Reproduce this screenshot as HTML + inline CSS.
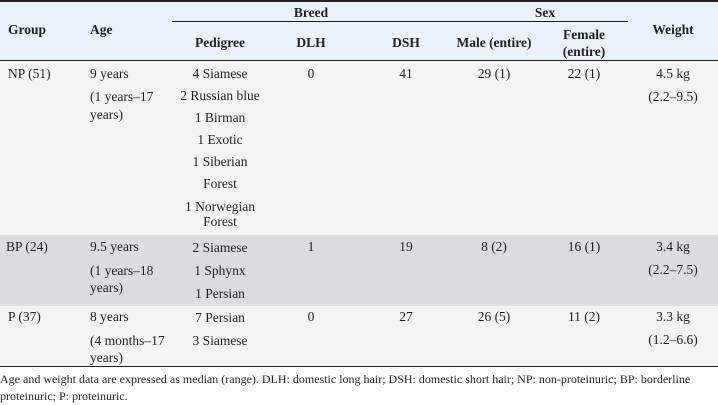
<!DOCTYPE html>
<html><head><meta charset="utf-8"><style>
body{margin:0;width:718px;height:402px;background:#fff;font-family:"Liberation Serif",serif;font-size:13.5px;color:#231f20;position:relative;overflow:hidden}
div{position:absolute;white-space:nowrap;line-height:15px}
.b{font-weight:bold}
.c{transform:translateX(-50%);text-align:center}
</style></head><body>
<div style="left:0;top:0;width:718px;height:61px;background:#e9f1fa"></div>
<div style="left:0;top:61px;width:718px;height:174px;background:#f3f3f4"></div>
<div style="left:0;top:235px;width:718px;height:71px;background:#dcdcde"></div>
<div style="left:0;top:306px;width:718px;height:61px;background:#f3f3f4"></div>
<div style="left:0;top:0;width:718px;height:2px;background:#231f20"></div>
<div style="left:172px;top:21px;width:456px;height:1px;background:#231f20"></div>
<div style="left:0;top:60px;width:718px;height:1px;background:#231f20"></div>
<div style="left:0;top:366px;width:718px;height:1px;background:#231f20"></div>

<div class="b" style="left:8px;top:22px">Group</div>
<div class="b" style="left:90px;top:22px">Age</div>
<div class="b c" style="left:311px;top:5px">Breed</div>
<div class="b c" style="left:545px;top:5px">Sex</div>
<div class="b c" style="left:220px;top:35px">Pedigree</div>
<div class="b c" style="left:311px;top:35px">DLH</div>
<div class="b c" style="left:406px;top:35px">DSH</div>
<div class="b c" style="left:494px;top:35px">Male (entire)</div>
<div class="b c" style="left:584px;top:26px;line-height:17px">Female<br>(entire)</div>
<div class="b c" style="left:673px;top:22px">Weight</div>

<div style="left:8px;top:66px">NP (51)</div>
<div style="left:90px;top:66px">9 years</div>
<div style="left:90px;top:88px;line-height:18px">(1 years–17<br>years)</div>
<div class="c" style="left:220px;top:63px;line-height:22px">4 Siamese<br>2 Russian blue<br>1 Birman<br>1 Exotic<br>1 Siberian</div>
<div class="c" style="left:220px;top:176px;line-height:15px">Forest</div>
<div class="c" style="left:220px;top:199px;line-height:15px">1 Norwegian<br>Forest</div>
<div class="c" style="left:311px;top:66px">0</div>
<div class="c" style="left:406px;top:66px">41</div>
<div class="c" style="left:494px;top:66px">29 (1)</div>
<div class="c" style="left:584px;top:66px">22 (1)</div>
<div class="c" style="left:673px;top:66px">4.5 kg</div>
<div class="c" style="left:673px;top:89px">(2.2–9.5)</div>

<div style="left:6px;top:239px">BP (24)</div>
<div style="left:90px;top:239px">9.5 years</div>
<div style="left:90px;top:262px;line-height:17px">(1 years–18<br>years)</div>
<div class="c" style="left:220px;top:236px;line-height:23px">2 Siamese<br>1 Sphynx<br>1 Persian</div>
<div class="c" style="left:311px;top:239px">1</div>
<div class="c" style="left:406px;top:239px">19</div>
<div class="c" style="left:494px;top:239px">8 (2)</div>
<div class="c" style="left:584px;top:239px">16 (1)</div>
<div class="c" style="left:673px;top:239px">3.4 kg</div>
<div class="c" style="left:673px;top:262px">(2.2–7.5)</div>

<div style="left:8px;top:309px">P (37)</div>
<div style="left:90px;top:309px">8 years</div>
<div style="left:90px;top:332px;line-height:17px">(4 months–17<br>years)</div>
<div class="c" style="left:220px;top:306px;line-height:23px">7 Persian<br>3 Siamese</div>
<div class="c" style="left:311px;top:309px">0</div>
<div class="c" style="left:406px;top:309px">27</div>
<div class="c" style="left:494px;top:309px">26 (5)</div>
<div class="c" style="left:584px;top:309px">11 (2)</div>
<div class="c" style="left:673px;top:309px">3.3 kg</div>
<div class="c" style="left:673px;top:332px">(1.2–6.6)</div>

<div style="left:0;top:371px;font-size:12px;line-height:17px">Age and weight data are expressed as median (range). DLH: domestic long hair; DSH: domestic short hair; NP: non-proteinuric; BP: borderline<br>proteinuric; P: proteinuric.</div>
</body></html>
